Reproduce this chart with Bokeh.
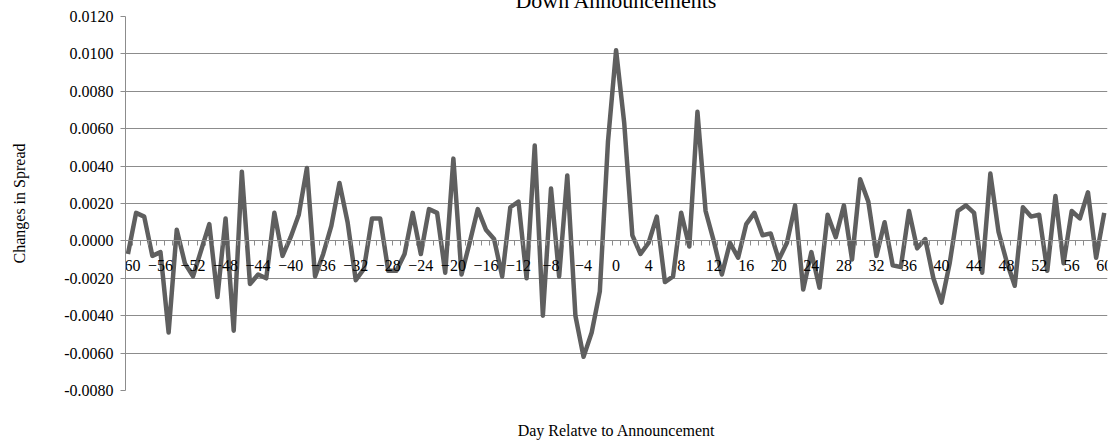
from bokeh.plotting import figure
from bokeh.models import FixedTicker, PrintfTickFormatter, LinearAxis, Range1d
from bokeh.embed import file_html
from bokeh.resources import INLINE

# ---- data ----
days = list(range(-60, 61))
spread_change = [
    -0.0007, 0.0015, 0.0013, -0.0008, -0.0006, -0.0049, 0.0006, -0.0012, -0.0019, -0.0005,   # -60..-51
    0.0009, -0.0030, 0.0012, -0.0048, 0.0037, -0.0023, -0.0018, -0.0020, 0.0015, -0.0008,    # -50..-41
    0.0002, 0.0014, 0.0039, -0.0019, -0.0007, 0.0008, 0.0031, 0.0010, -0.0021, -0.0015,      # -40..-31
    0.0012, 0.0012, -0.0016, -0.0016, -0.0007, 0.0015, -0.0007, 0.0017, 0.0015, -0.0017,     # -30..-21
    0.0044, -0.0018, -0.0001, 0.0017, 0.0006, 0.0001, -0.0019, 0.0018, 0.0021, -0.0020,      # -20..-11
    0.0051, -0.0040, 0.0028, -0.0019, 0.0035, -0.0040, -0.0062, -0.0049, -0.0027, 0.0053,    # -10..-1
    0.0102,                                                                                  # 0
    0.0063, 0.0003, -0.0007, -0.0001, 0.0013, -0.0022, -0.0019, 0.0015, -0.0003, 0.0069,     # 1..10
    0.0016, 0.0000, -0.0018, -0.0001, -0.0009, 0.0009, 0.0015, 0.0003, 0.0004, -0.0010,      # 11..20
    -0.0001, 0.0019, -0.0026, -0.0006, -0.0025, 0.0014, 0.0002, 0.0019, -0.0010, 0.0033,     # 21..30
    0.0021, -0.0008, 0.0010, -0.0013, -0.0014, 0.0016, -0.0004, 0.0001, -0.0020, -0.0033,    # 31..40
    -0.0012, 0.0016, 0.0019, 0.0015, -0.0017, 0.0036, 0.0005, -0.0011, -0.0024, 0.0018,      # 41..50
    0.0013, 0.0014, -0.0016, 0.0024, -0.0012, 0.0016, 0.0012, 0.0026, -0.0009, 0.0015,       # 51..60
]
assert len(days) == len(spread_change)
y_ticks = [-0.008, -0.006, -0.004, -0.002, 0.0, 0.002, 0.004, 0.006, 0.008, 0.010, 0.012]
x_label_days = days[::4]
title_text = "Down Announcements"
x_title = "Day Relatve to Announcement"
y_title = "Changes in Spread"

FONT = "Liberation Serif"
GRID = "#8c8c8c"
LINE = "#5f5f5f"

p = figure(width=1118, height=457, output_backend="svg", toolbar_location=None,
           x_range=Range1d(-60.3, 60.4), y_range=Range1d(y_ticks[0], y_ticks[-1]),
           min_border_left=125, min_border_right=11, min_border_top=32, min_border_bottom=50,
           x_axis_location=None, y_axis_location="left",
           styles={"margin-top": "-16px", "margin-bottom": "-8px"})
p.outline_line_color = None
p.background_fill_color = "white"
p.border_fill_color = "white"
p.xgrid.visible = False
p.ygrid.ticker = FixedTicker(ticks=y_ticks)
p.ygrid.grid_line_color = GRID
p.ygrid.grid_line_width = 1

ya = p.yaxis[0]
ya.ticker = FixedTicker(ticks=y_ticks)
ya.formatter = PrintfTickFormatter(format="%.4f")
ya.axis_line_color = GRID
ya.major_tick_line_color = GRID
ya.major_tick_out = 5
ya.major_tick_in = 0
ya.minor_tick_line_color = None
ya.major_label_standoff = 7
ya.major_label_text_font = FONT
ya.major_label_text_font_size = "16px"
ya.major_label_text_color = "black"
ya.axis_label = y_title
ya.axis_label_text_font = FONT
ya.axis_label_text_font_size = "16px"
ya.axis_label_text_font_style = "normal"
ya.axis_label_text_color = "black"
ya.axis_label_standoff = 33

# category axis crossing at zero
xa = LinearAxis(fixed_location=0,
                ticker=FixedTicker(ticks=x_label_days, minor_ticks=[d + 0.5 for d in days[:-1]]))
xa.axis_line_color = GRID
xa.major_tick_out = 0
xa.major_tick_in = 0
xa.minor_tick_out = 5
xa.minor_tick_in = 0
xa.minor_tick_line_color = GRID
xa.major_label_standoff = 14
xa.major_label_text_font = FONT
xa.major_label_text_font_size = "16px"
xa.major_label_text_color = "black"
p.add_layout(xa, "below")


def title_axis(text, size, standoff):
    ax = LinearAxis(ticker=FixedTicker(ticks=[]), axis_label=text)
    ax.axis_line_color = None
    ax.major_tick_line_color = None
    ax.minor_tick_line_color = None
    ax.major_tick_out = 0
    ax.major_tick_in = 0
    ax.minor_tick_out = 0
    ax.minor_tick_in = 0
    ax.major_label_standoff = 0
    ax.major_label_text_font_size = "0px"
    ax.axis_label_standoff = standoff
    ax.axis_label_text_font = FONT
    ax.axis_label_text_font_size = size
    ax.axis_label_text_font_style = "normal"
    ax.axis_label_text_color = "black"
    return ax


p.add_layout(title_axis(x_title, "16px", 31), "below")
p.add_layout(title_axis(title_text, "22px", 4), "above")

p.line(days, spread_change, line_color=LINE, line_width=4.5, line_join="round")

open("out.html", "w").write(file_html(p, INLINE))
